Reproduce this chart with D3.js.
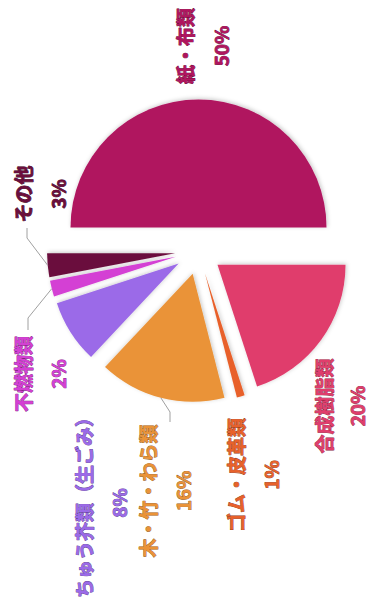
<!DOCTYPE html>
<html lang="ja">
<head>
<meta charset="utf-8">
<script src="https://cdn.jsdelivr.net/npm/d3@7"></script>
<style>
  html, body { margin: 0; padding: 0; background: #ffffff; }
  svg { display: block; }
  .lbl { font-family: "Noto Sans CJK JP", "Noto Sans", sans-serif; font-weight: 700; font-size: 19px; paint-order: stroke; stroke-linejoin: round; }
</style>
</head>
<body>
<svg id="chart" width="368" height="607"></svg>
<script>
// Composition of waste (percent share)
const categories = ["紙・布類", "合成樹脂類", "ゴム・皮革類", "木・竹・わら類", "ちゅう芥類（生ごみ）", "不燃物類", "その他"];
const shares = [50, 20, 1, 16, 8, 2, 3];
const colors = ["#b0145f", "#e03d6c", "#e8612b", "#ea9338", "#9b6ae8", "#d43fd4", "#6b0e3c"];

// Label placement: rotated text columns (name line x, value line x, centre y)
const labelLayout = [
  { nx: 184, vx: 220, y: 46 },
  { nx: 323, vx: 356, y: 406 },
  { nx: 235, vx: 270, y: 475 },
  { nx: 147, vx: 182, y: 491 },
  { nx: 83,  vx: 118, y: 503 },
  { nx: 22,  vx: 57,  y: 374 },
  { nx: 22,  vx: 57,  y: 194 }
];
// Connector knee and end points for the small slices
const connectors = [
  { i: 6, knee: [27, 238], end: [27, 228] },
  { i: 5, knee: [28, 318], end: [28, 330] },
  { i: 3, knee: [170, 412], end: [170, 422] }
];

const svg = d3.select("#chart");
const cx = 198.5, cy = 251, radius = 128, explode = 23.5;

const defs = svg.append("defs");
const f = defs.append("filter").attr("id", "shadow")
  .attr("x", "-20%").attr("y", "-20%").attr("width", "140%").attr("height", "140%");
f.append("feDropShadow").attr("dx", 1).attr("dy", -1)
  .attr("stdDeviation", 2).attr("flood-color", "#000").attr("flood-opacity", 0.22);

const pie = d3.pie().sort(null).startAngle(-Math.PI / 2).endAngle(1.5 * Math.PI);
const arcs = pie(shares);
const arc = d3.arc().innerRadius(0).outerRadius(radius);

const g = svg.append("g").attr("transform", `translate(${cx},${cy})`);

const offset = a => {
  const m = (a.startAngle + a.endAngle) / 2;
  return [explode * Math.sin(m), -explode * Math.cos(m)];
};

g.selectAll("path.slice")
  .data(arcs)
  .join("path")
  .attr("class", "slice")
  .attr("d", arc)
  .attr("fill", (d, i) => colors[i])
  .attr("filter", "url(#shadow)")
  .attr("transform", d => { const o = offset(d); return `translate(${o[0]},${o[1]})`; });

// Connectors from slice edge to the label
connectors.forEach(c => {
  const a = arcs[c.i];
  const m = (a.startAngle + a.endAngle) / 2;
  const r = radius + explode;
  const sx = cx + r * Math.sin(m), sy = cy - r * Math.cos(m);
  svg.append("path")
    .attr("d", d3.line()([[sx, sy], c.knee, c.end]))
    .attr("fill", "none")
    .attr("stroke", "#a0a0a0")
    .attr("stroke-width", 1);
});

// Labels: category name and share, rotated to read bottom-to-top
categories.forEach((name, i) => {
  const L = labelLayout[i];
  const col = d3.color(colors[i]);
  const dark = col.darker(1.4).formatHex();
  [[L.nx, name], [L.vx, shares[i] + "%"]].forEach(([x, t]) => {
    svg.append("text")
      .attr("class", "lbl")
      .attr("transform", `translate(${x},${L.y}) rotate(-90)`)
      .attr("text-anchor", "middle")
      .attr("dominant-baseline", "central")
      .attr("fill", colors[i])
      .attr("stroke", dark)
      .attr("stroke-width", 0.8)
      .text(t);
  });
});
</script>
</body>
</html>
